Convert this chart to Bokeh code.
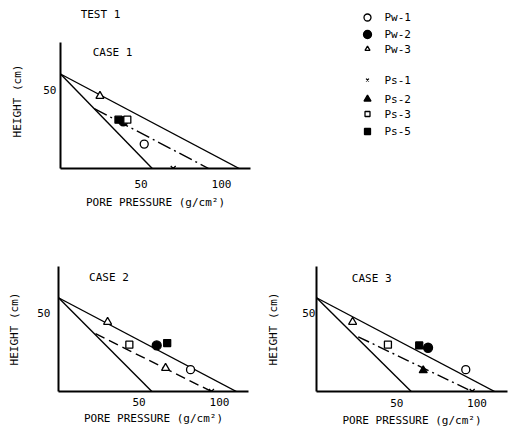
from bokeh.plotting import figure
from bokeh.layouts import column, row
from bokeh.models import Label, Range1d, FixedTicker
from bokeh.core.properties import value
from bokeh.embed import file_html
from bokeh.resources import INLINE

FONT = "DejaVu Sans Mono"
FS = "11px"

# ---------------- data ----------------
test_name = "TEST 1"
case_names = ["CASE 1", "CASE 2", "CASE 3"]
x_ticks = [50, 100]
y_ticks = [50]
x_label = "PORE PRESSURE (g/cm²)"
y_label = "HEIGHT (cm)"

# theoretical pressure lines (one value per case)
line_top = [60, 60, 60]          # height where all lines start (x = 0)
steep_end = [57, 58, 59]         # steep solid line reaches x-axis
upper_end = [111, 110.5, 111]    # upper solid line reaches x-axis
branch_x = [21, 23, 26]          # dash-dot line leaves steep line
branch_y = [38, 37, 35]
branch_end = [92, 95, 97]        # dash-dot line reaches x-axis

# measured pore pressures, per case
pw1_x = [[52], [82], [93]]
pw1_y = [[15.5], [14], [14]]
pw2_x = [[39], [61], [69.5]]
pw2_y = [[30], [29.5], [28]]
pw3_x = [[24.5], [30.5, 66.5], [22.5]]
pw3_y = [[46], [44.5, 15], [44.5]]
ps1_x = [[70], [95], [97]]
ps1_y = [[0], [0], [0]]
ps2_x = [[], [], [66.5]]
ps2_y = [[], [], [13.5]]
ps3_x = [[41.5], [44], [44.5]]
ps3_y = [[31], [30], [30]]
ps5_x = [[36], [67.5], [64]]
ps5_y = [[31], [31], [29.5]]

series_names = ["Pw-1", "Pw-2", "Pw-3", "Ps-1", "Ps-2", "Ps-3", "Ps-5"]
series_x = [pw1_x, pw2_x, pw3_x, ps1_x, ps2_x, ps3_x, ps5_x]
series_y = [pw1_y, pw2_y, pw3_y, ps1_y, ps2_y, ps3_y, ps5_y]

# ---------------- styles / layout ----------------
markers = ["circle", "circle", "triangle", "x", "triangle", "square", "square"]
sizes = [8, 9, 8, 7, 8, 7, 7]
fills = ["white", "black", "white", "black", "black", "white", "black"]
legend_sizes = [7, 8, 5, 4, 7, 5, 6]
dashes = ["14 4 2 4", "10 5", "12 4 2 4"]

x_max = [118, 118, 119]
y_max = [106.67, 80, 80]
y_axis_end = 80
NBSP = "\u00a0"
y_label_pad = [5, 0, 0]   # shifts the rotated label down in case 1

# (width, height, left, right, top, bottom, tick_standoff_x, label_standoff_x, tick_standoff_y, label_standoff_y)
geom = [
    (258, 228, 60, 8, 0, 60, 11, 5, 4, 16),
    (258, 208, 58, 10, 38, 44, 6, 3, 8, 13),
    (253, 208, 58, 4, 37, 45, 7, 4, 1, 19),
]
case_label_pos = [(20, 73.5), (19, 73), (22, 72.5)]
test_label_pos = (12.5, 98)

# legend panel (pixel coordinates inside legend frame, y downward)
leg_w, leg_h, leg_frame_h = 253, 228, 168
leg_marker_x = 109
leg_text_x = 126
leg_row_y = [17, 34, 48.5, 79.5, 98.5, 113.5, 131]


def style_axes(p, i):
    tsx, lsx, tsy, lsy = geom[i][6:]
    p.xaxis.ticker = FixedTicker(ticks=x_ticks)
    p.yaxis.ticker = FixedTicker(ticks=y_ticks)
    p.xaxis.bounds = (0, x_max[i])
    p.yaxis.bounds = (0, y_axis_end)
    for ax in (p.xaxis[0], p.yaxis[0]):
        ax.axis_line_width = 2
        ax.axis_line_color = "black"
        ax.major_tick_line_color = None
        ax.minor_tick_line_color = None
        ax.major_tick_out = 0
        ax.major_tick_in = 0
        ax.major_label_text_font = FONT
        ax.major_label_text_font_size = FS
        ax.major_label_text_color = "black"
        ax.axis_label_text_font = FONT
        ax.axis_label_text_font_size = FS
        ax.axis_label_text_font_style = "normal"
        ax.axis_label_text_color = "black"
    p.xaxis.axis_label = x_label
    p.yaxis.axis_label = y_label + NBSP * y_label_pad[i]
    p.xaxis.major_label_standoff = tsx
    p.xaxis.axis_label_standoff = lsx
    p.yaxis.major_label_standoff = tsy
    p.yaxis.axis_label_standoff = lsy


def make_case(i):
    w, h, bl, br, bt, bb = geom[i][:6]
    p = figure(width=w, height=h, output_backend="svg", toolbar_location=None,
               title=None,
               x_range=Range1d(0, x_max[i]), y_range=Range1d(0, y_max[i]),
               min_border_left=bl, min_border_right=br,
               min_border_top=bt, min_border_bottom=bb)
    p.outline_line_color = None
    p.grid.grid_line_color = None
    style_axes(p, i)

    p.line([0, steep_end[i]], [line_top[i], 0], line_color="black", line_width=1.4)
    p.line([0, upper_end[i]], [line_top[i], 0], line_color="black", line_width=1.4)
    p.line([branch_x[i], branch_end[i]], [branch_y[i], 0], line_color="black",
           line_width=1.4, line_dash=dashes[i])

    for k in range(len(series_names)):
        p.scatter(series_x[k][i], series_y[k][i], marker=markers[k], size=sizes[k],
                  fill_color=fills[k], line_color="black", line_width=1.3)

    cx, cy = case_label_pos[i]
    p.add_layout(Label(x=cx, y=cy, text=case_names[i], text_font=FONT,
                       text_font_size=FS, text_baseline="middle", text_color="black"))
    return p


p1 = make_case(0)
p2 = make_case(1)
p3 = make_case(2)

p1.add_layout(Label(x=test_label_pos[0], y=test_label_pos[1], text=test_name,
                    text_font=FONT, text_font_size=FS, text_baseline="middle",
                    text_color="black"))

# legend panel (top right)
pleg = figure(width=leg_w, height=leg_h, output_backend="svg", toolbar_location=None,
              title=None,
              x_range=Range1d(0, leg_w), y_range=Range1d(leg_frame_h, 0),
              x_axis_location=None, y_axis_location=None,
              min_border_left=0, min_border_right=0, min_border_top=0,
              min_border_bottom=leg_h - leg_frame_h)
pleg.outline_line_color = None
pleg.grid.grid_line_color = None
for k in range(len(series_names)):
    pleg.scatter([leg_marker_x], [leg_row_y[k]], marker=markers[k], size=legend_sizes[k],
                 fill_color=fills[k], line_color="black", line_width=1.3)
pleg.text(x=[leg_text_x] * len(series_names), y=leg_row_y, text=series_names,
          text_font=value(FONT), text_font_size=value(FS), text_baseline="middle",
          text_color="black")

layout = column(row(p1, pleg, spacing=0), row(p2, p3, spacing=0), spacing=0)
open("out.html", "w").write(file_html(layout, INLINE))
